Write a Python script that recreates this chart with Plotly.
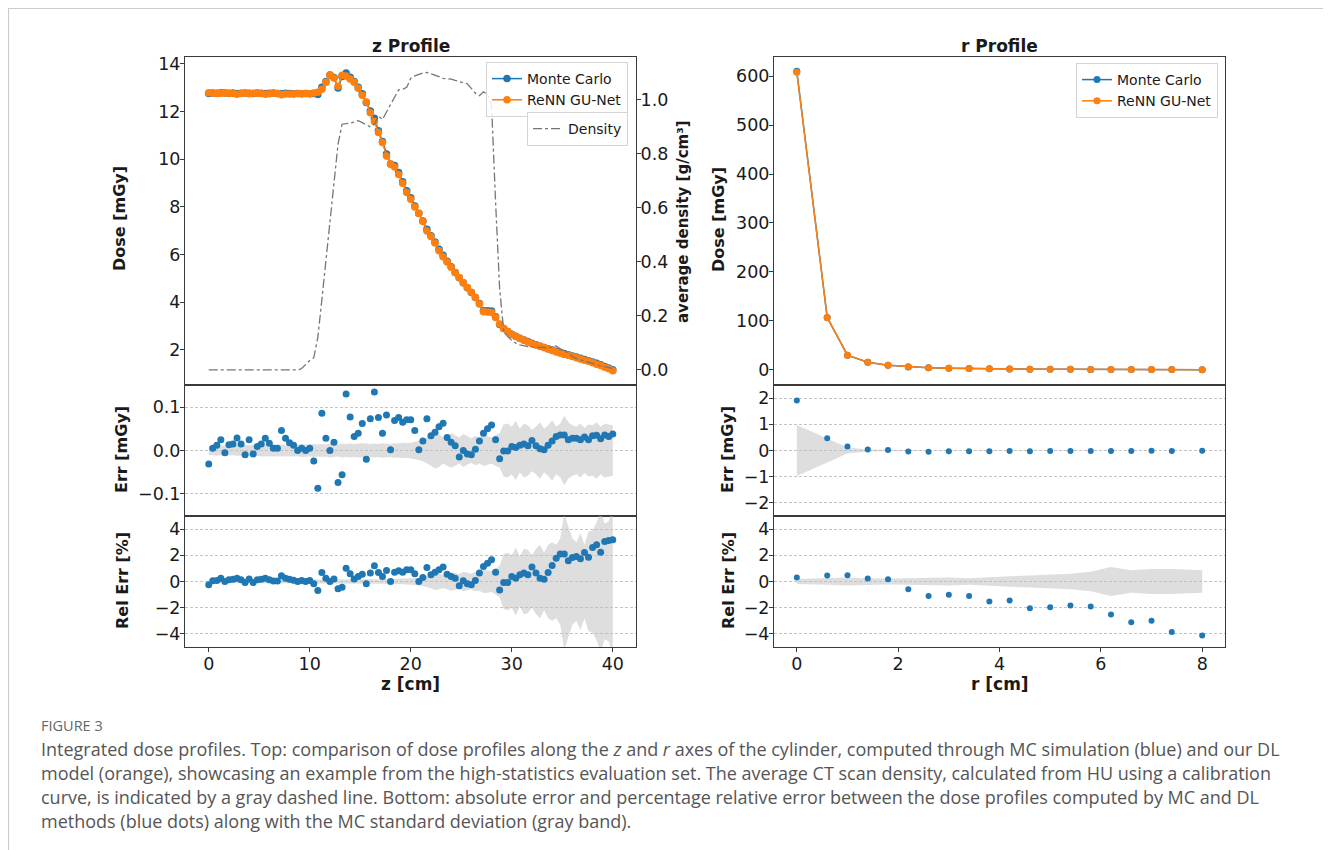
import plotly.graph_objects as go

# page body has an 8px margin: figure is offset by (8, 8) in the browser window
OFF = 8
W, H = 1331 - OFF, 850 - OFF
def px(x): return (x - OFF) / W
def py(y): return 1 - (y - OFF) / H

# ---------------- data: z profile ----------------
z_cm = [0.0,0.4,0.8,1.2,1.6,2.0,2.4,2.8,3.2,3.6,4.0,4.4,4.8,5.2,5.6,6.0,6.4,6.8,7.2,7.6,
        8.0,8.4,8.8,9.2,9.6,10.0,10.4,10.8,11.2,11.6,12.0,12.4,12.8,13.2,13.6,14.0,14.4,14.8,15.2,15.6,
        16.0,16.4,16.8,17.2,17.6,18.0,18.4,18.8,19.2,19.6,20.0,20.4,20.8,21.2,21.6,22.0,22.4,22.8,23.2,23.6,
        24.0,24.4,24.8,25.2,25.6,26.0,26.4,26.8,27.2,27.6,28.0,28.4,28.8,29.2,29.6,30.0,30.4,30.8,31.2,31.6,
        32.0,32.4,32.8,33.2,33.6,34.0,34.4,34.8,35.2,35.6,36.0,36.4,36.8,37.2,37.6,38.0,38.4,38.8,39.2,39.6,40.0]

z_dose_mc = [12.76,12.78,12.77,12.79,12.78,12.77,12.78,12.76,12.77,12.78,12.77,12.76,12.78,12.77,12.76,12.77,
             12.78,12.76,12.75,12.77,12.76,12.75,12.76,12.75,12.76,12.75,12.76,
             12.72,13.02,13.26,13.54,13.43,12.99,13.47,13.62,13.44,13.26,13.02,12.75,12.38,12.02,11.72,11.2,
             10.74,10.22,9.8,9.74,9.44,9.06,8.68,8.39,8.04,7.73,7.41,7.06,6.79,6.53,6.22,5.97,5.72,5.49,5.25,
             5.03,4.82,4.61,4.41,4.2,3.95,3.64,3.64,3.63,3.39,3.07,2.9,2.77,
             2.66,2.57,2.49,2.42,2.35,2.28,2.22,2.16,2.10,2.05,2.00,1.95,1.90,1.85,1.80,1.75,1.70,1.65,1.60,
             1.55,1.50,1.44,1.38,1.31,1.24,1.17]

z_err = [-0.031,0.005,0.012,0.025,-0.005,0.013,0.015,0.029,0.015,-0.010,
         0.025,-0.008,0.009,0.015,0.028,0.017,0.005,0.005,0.046,0.028,
         0.018,0.012,0.000,0.005,0.000,0.005,-0.024,-0.087,0.086,0.028,
         0.000,0.019,-0.074,-0.056,0.130,0.077,0.032,0.040,0.062,-0.020,
         0.073,0.135,0.076,0.040,0.082,0.002,0.069,0.076,0.065,0.071,
         0.071,0.046,0.002,0.022,0.073,0.034,0.042,0.055,0.063,0.030,
         0.019,0.011,-0.015,0.000,-0.008,-0.010,0.003,0.022,0.040,0.050,
         0.059,0.025,-0.019,-0.001,-0.001,0.009,0.007,0.012,0.015,0.011,
         0.023,0.011,0.004,0.002,0.012,0.022,0.032,0.036,0.036,0.025,
         0.028,0.028,0.025,0.031,0.025,0.034,0.035,0.027,0.036,0.032,
         0.038]

z_err_std = [0.011,0.011,0.012,0.011,0.012,0.012,0.011,0.012,0.013,0.012,0.012,
             0.013,0.012,0.014,0.013,0.013,0.014,0.013,0.014,0.013,0.014,
             0.014,0.013,0.015,0.014,0.014,0.015,0.014,0.015,0.014,0.016,
             0.015,0.014,0.016,0.015,0.016,0.015,0.016,0.017,0.016,0.015,
             0.016,0.015,0.017,0.016,0.015,0.017,0.016,0.018,0.017,0.018,
             0.020,0.022,0.025,0.030,0.035,0.042,0.038,0.030,0.035,0.040,
             0.035,0.030,0.038,0.032,0.028,0.034,0.030,0.036,0.033,0.030,0.036,0.040,
             0.060,0.062,0.055,0.068,0.050,0.062,0.058,0.048,0.055,0.065,
             0.050,0.058,0.070,0.055,0.062,0.080,0.065,0.058,0.055,0.062,
             0.052,0.060,0.058,0.065,0.055,0.062,0.060,0.058]

z_rel = [-0.25,0.05,0.08,0.25,0.0,0.13,0.18,0.25,0.13,-0.08,
         0.2,-0.08,0.13,0.18,0.25,0.13,0.03,0.03,0.43,0.25,
         0.18,0.1,0.0,0.08,0.0,0.08,-0.18,-0.69,0.69,0.25,
         0.0,0.2,-0.56,-0.43,1.02,0.59,0.2,0.38,0.56,-0.18,
         0.64,1.2,0.69,0.38,0.84,0.0,0.71,0.82,0.71,0.89,
         0.89,0.59,0.0,0.31,1.07,0.51,0.71,0.89,1.1,0.56,
         0.38,0.25,-0.33,0.05,-0.18,-0.25,0.08,0.64,1.15,1.4,
         1.66,0.71,-0.64,-0.08,-0.08,0.38,0.25,0.51,0.64,0.51,
         1.1,0.64,0.25,0.18,0.69,1.22,1.78,2.09,2.09,1.58,
         1.83,1.91,1.73,2.22,1.86,2.6,2.8,2.24,3.06,3.13,
         3.18]

z_rel_std = [0.12,0.12,0.13,0.12,0.13,0.13,0.12,0.13,0.14,0.13,0.13,0.14,0.13,0.15,0.14,0.14,0.15,0.14,
             0.15,0.14,0.15,0.15,0.14,0.16,0.15,0.15,0.16,
             0.15,0.14,0.15,0.14,0.15,0.14,0.15,0.14,0.15,0.16,0.15,0.16,0.17,0.16,0.17,0.17,0.18,0.19,
             0.18,0.20,0.19,0.21,0.20,0.22,
             0.26,0.29,0.34,0.42,0.52,0.64,0.60,0.50,0.60,0.70,0.65,
             0.58,0.75,0.65,0.60,0.75,0.70,0.88,0.85,0.80,1.00,1.20,
             2.1,2.2,2.0,2.6,1.9,2.5,2.4,2.0,2.5,2.8,2.2,2.8,3.0,2.8,3.3,5.2,4.2,3.3,3.0,3.7,2.8,3.8,
             3.9,4.5,5.4,4.4,4.6,5.6]

z_density = [0.0]*23 + [0.005,0.02,0.035,0.045,
             0.12,0.26,0.41,0.55,0.69,0.836,
             0.91,0.911,0.914,0.918,0.923,0.916,0.907,0.90,0.91,
             0.94,0.928,0.957,0.98,1.01,1.037,1.04,1.047,
             1.08,1.089,1.096,1.10,1.102,1.097,1.093,1.086,1.08,1.079,1.077,1.072,1.068,1.065,1.06,
             1.043,1.025,1.016,1.03,1.02,
             0.98,0.62,0.30,0.145,0.123,0.109,0.099,0.093,0.089,0.086,0.085,0.084,0.085,0.083,0.08,
             0.084,0.089,0.077,0.068,0.064,0.049,0.042,0.037,0.032,0.027,0.022,0.019,0.015,0.011,
             0.007,0.005]

# ---------------- data: r profile ----------------
r_cm = [0.0,0.6,1.0,1.4,1.8,2.2,2.6,3.0,3.4,3.8,4.2,4.6,5.0,5.4,5.8,6.2,6.6,7.0,7.4,8.0]
r_dose_mc = [610.0,107.0,30.0,15.5,9.2,6.0,4.3,3.2,2.5,2.0,1.6,1.3,1.1,0.92,0.78,0.66,0.56,0.48,0.41,0.33]
r_err = [1.91,0.47,0.15,0.04,0.02,-0.035,-0.047,-0.033,-0.028,-0.031,-0.023,-0.027,-0.022,-0.017,
         -0.015,-0.017,-0.017,-0.014,-0.016,-0.014]
r_err_std = [0.97,0.46,0.11,0.035,0.02,0.015,0.012,0.01,0.009,0.008,0.007,0.007,0.006,0.006,0.006,
             0.006,0.005,0.005,0.005,0.004]
r_rel = [0.31,0.46,0.48,0.23,0.18,-0.59,-1.1,-1.02,-1.1,-1.53,-1.45,-2.04,-1.96,-1.83,-1.91,-2.52,
         -3.11,-3.0,-3.85,-4.13]
r_rel_std = [0.2,0.25,0.3,0.25,0.22,0.25,0.3,0.3,0.25,0.35,0.4,0.45,0.5,0.6,0.75,1.1,0.85,0.95,0.95,0.85]

z_ticks = [0, 10, 20, 30, 40]
r_ticks = [0, 2, 4, 6, 8]

# derived model predictions
z_dose_dl = [m - e for m, e in zip(z_dose_mc, z_err)]
r_dose_dl = [m - e for m, e in zip(r_dose_mc, r_err)]

BLUE = '#1f77b4'
ORANGE = '#ff7f0e'
BAND = 'rgba(190,190,190,0.5)'
FONT = 'DejaVu Sans'

fig = go.Figure()

def band(x, s, xa, ya):
    fig.add_trace(go.Scatter(x=list(x) + list(x)[::-1],
                             y=list(s) + [-v for v in s][::-1],
                             fill='toself', fillcolor=BAND, mode='lines',
                             line=dict(width=0, color=BAND), hoverinfo='skip',
                             showlegend=False, xaxis=xa, yaxis=ya))

# left top
fig.add_trace(go.Scatter(x=z_cm, y=z_dose_mc, mode='lines+markers', name='Monte Carlo',
                         line=dict(color=BLUE, width=1.5), marker=dict(size=7.5, color=BLUE),
                         xaxis='x', yaxis='y', legend='legend'))
fig.add_trace(go.Scatter(x=z_cm, y=z_dose_dl, mode='lines+markers', name='ReNN GU-Net',
                         line=dict(color=ORANGE, width=1.5), marker=dict(size=7.5, color=ORANGE),
                         xaxis='x', yaxis='y', legend='legend'))
fig.add_trace(go.Scatter(x=z_cm, y=z_density, mode='lines', name='Density',
                         line=dict(color='#767676', width=1.3, dash='dashdot'),
                         xaxis='x', yaxis='y7', legend='legend2'))
# left err
band(z_cm, z_err_std, 'x2', 'y2')
fig.add_trace(go.Scatter(x=z_cm, y=z_err, mode='markers', marker=dict(size=7, color=BLUE),
                         showlegend=False, xaxis='x2', yaxis='y2'))
band(z_cm, z_rel_std, 'x3', 'y3')
fig.add_trace(go.Scatter(x=z_cm, y=z_rel, mode='markers', marker=dict(size=7, color=BLUE),
                         showlegend=False, xaxis='x3', yaxis='y3'))

# right top
fig.add_trace(go.Scatter(x=r_cm, y=r_dose_mc, mode='lines+markers', name='Monte Carlo',
                         line=dict(color=BLUE, width=1.5), marker=dict(size=7, color=BLUE),
                         xaxis='x4', yaxis='y4', legend='legend3'))
fig.add_trace(go.Scatter(x=r_cm, y=r_dose_dl, mode='lines+markers', name='ReNN GU-Net',
                         line=dict(color=ORANGE, width=1.5), marker=dict(size=7, color=ORANGE),
                         xaxis='x4', yaxis='y4', legend='legend3'))
band(r_cm, r_err_std, 'x5', 'y5')
fig.add_trace(go.Scatter(x=r_cm, y=r_err, mode='markers', marker=dict(size=6, color=BLUE),
                         showlegend=False, xaxis='x5', yaxis='y5'))
band(r_cm, r_rel_std, 'x6', 'y6')
fig.add_trace(go.Scatter(x=r_cm, y=r_rel, mode='markers', marker=dict(size=6, color=BLUE),
                         showlegend=False, xaxis='x6', yaxis='y6'))

LINE = '#3a3a3a'
TICKF = dict(family=FONT, size=17.5, color='#1a1a1a')

def xax(domain, rng, anchor, labels, tickvals, match=None):
    d = dict(domain=domain, range=rng, anchor=anchor, showline=True, mirror=True,
             linecolor=LINE, linewidth=1, showgrid=False, zeroline=False,
             tickvals=tickvals, tickfont=TICKF, automargin=False)
    if labels:
        d.update(ticks='outside', ticklen=4, tickcolor=LINE, showticklabels=True,
                 ticklabelstandoff=-3)
    else:
        d.update(ticks='', showticklabels=False)
    if match:
        d['matches'] = match
    return d

def yax(domain, rng, anchor, tickvals, grid=False, fmt=None):
    d = dict(domain=domain, range=rng, anchor=anchor, showline=True, mirror=True,
             linecolor=LINE, linewidth=1, zeroline=False, tickvals=tickvals,
             ticks='outside', ticklen=4, tickcolor=LINE, tickfont=TICKF, automargin=False,
             showgrid=grid, ticklabelstandoff=-4)
    if grid:
        d.update(gridcolor='#c4c4c4', griddash='3px,2px', gridwidth=0.8)
    if fmt:
        d['tickformat'] = fmt
    return d

LX = [px(185), px(636)]
RX = [px(774), px(1225)]
TOP = [py(385), py(57)]
MID = [py(516), py(385)]
BOT = [py(647), py(516)]

LEGF = dict(family=FONT, size=14, color='#1a1a1a')
fig.update_layout(
    width=W, height=H, margin=dict(l=0, r=0, t=0, b=0),
    paper_bgcolor='white', plot_bgcolor='white',
    font=dict(family=FONT, color='#1a1a1a'),
    xaxis=xax(LX, [-2.35, 42.3], 'y', False, z_ticks),
    xaxis2=xax(LX, [-2.35, 42.3], 'y2', False, z_ticks, 'x'),
    xaxis3=xax(LX, [-2.35, 42.3], 'y3', True, z_ticks, 'x'),
    xaxis4=xax(RX, [-0.45, 8.45], 'y4', False, r_ticks),
    xaxis5=xax(RX, [-0.45, 8.45], 'y5', False, r_ticks, 'x4'),
    xaxis6=xax(RX, [-0.45, 8.45], 'y6', True, r_ticks, 'x4'),
    yaxis=yax(TOP, [0.53, 14.29], 'x', [2, 4, 6, 8, 10, 12, 14]),
    yaxis2=yax(MID, [-0.151, 0.151], 'x2', [-0.1, 0.0, 0.1], grid=True, fmt='.1f'),
    yaxis3=yax(BOT, [-5, 5], 'x3', [-4, -2, 0, 2, 4], grid=True),
    yaxis4=yax(TOP, [-31, 639], 'x4', [0, 100, 200, 300, 400, 500, 600]),
    yaxis5=yax(MID, [-2.5, 2.5], 'x5', [-2, -1, 0, 1, 2], grid=True),
    yaxis6=yax(BOT, [-5, 5], 'x6', [-4, -2, 0, 2, 4], grid=True),
    yaxis7=dict(overlaying='y', side='right', anchor='x', range=[-0.056, 1.159],
                tickvals=[0, 0.2, 0.4, 0.6, 0.8, 1.0], tickformat='.1f', ticks='outside',
                ticklen=4, tickcolor=LINE, tickfont=TICKF, showgrid=False, zeroline=False,
                showline=False, automargin=False, ticklabelstandoff=-4),
    legend=dict(x=px(628), xanchor='right', y=py(62), yanchor='top',
                bgcolor='rgba(255,255,255,0.85)', bordercolor='#d4d4d4', borderwidth=1,
                font=LEGF, tracegroupgap=0),
    legend2=dict(x=px(628), xanchor='right', y=py(112), yanchor='top',
                 bgcolor='rgba(255,255,255,0.85)', bordercolor='#d4d4d4', borderwidth=1,
                 font=LEGF),
    legend3=dict(x=px(1218), xanchor='right', y=py(63), yanchor='top',
                 bgcolor='rgba(255,255,255,0.85)', bordercolor='#d4d4d4', borderwidth=1,
                 font=LEGF),
)

ann = []
def text(x, y, s, size, angle=0, color='#1a1a1a', family=FONT, xanchor='center'):
    ann.append(dict(x=px(x), y=py(y), xref='paper', yref='paper', text=s, showarrow=False,
                    textangle=angle, xanchor=xanchor, yanchor='middle',
                    font=dict(family=family, size=size, color=color)))

text(410.5, 46, '<b>z Profile</b>', 17)
text(999.5, 46, '<b>r Profile</b>', 17)
text(410.5, 684, '<b>z [cm]</b>', 17)
text(999.5, 684, '<b>r [cm]</b>', 17)
text(119, 219, '<b>Dose [mGy]</b>', 16, -90)
text(121, 450, '<b>Err [mGy]</b>', 16, -90)
text(122, 581, '<b>Rel Err [%]</b>', 16, -90)
text(683, 222, '<b>average density [g/cm³]</b>', 15, -90)
text(718, 219, '<b>Dose [mGy]</b>', 16, -90)
text(727, 450, '<b>Err [mGy]</b>', 16, -90)
text(728, 581, '<b>Rel Err [%]</b>', 16, -90)

CAP = 'Open Sans'
text(39, 725, 'FIGURE 3', 14.5, color='#666666', family=CAP, xanchor='left')
cap_lines = [
    'Integrated dose profiles. Top: comparison of dose profiles along the <i>z</i> and <i>r</i> axes of the cylinder, computed through MC simulation (blue) and our DL',
    'model (orange), showcasing an example from the high-statistics evaluation set. The average CT scan density, calculated from HU using a calibration',
    'curve, is indicated by a gray dashed line. Bottom: absolute error and percentage relative error between the dose profiles computed by MC and DL',
    'methods (blue dots) along with the MC standard deviation (gray band).',
]
for i, s in enumerate(cap_lines):
    text(39, 749 + 24 * i, s, 18, color='#555555', family=CAP, xanchor='left')

fig.update_layout(annotations=ann,
                  shapes=[dict(type='rect', xref='paper', yref='paper', x0=px(8.5), x1=px(1328),
                               y0=-0.05, y1=py(8.5), line=dict(color='#cccccc', width=1.2),
                               fillcolor='rgba(0,0,0,0)', layer='below')])

fig.write_html('out.html')
